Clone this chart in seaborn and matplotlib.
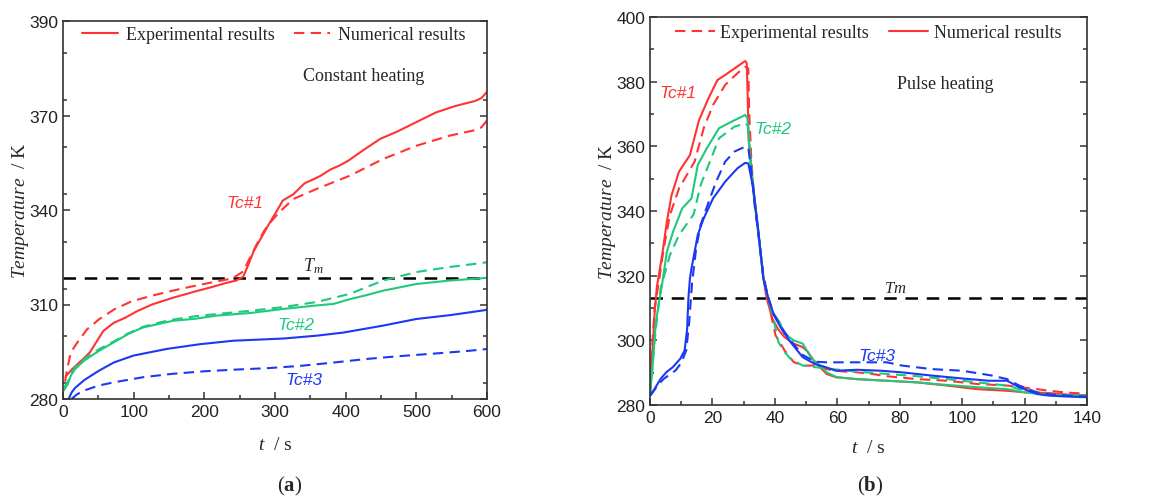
import matplotlib
matplotlib.use("Agg")
import matplotlib.pyplot as plt
import seaborn as sns
from matplotlib.ticker import MultipleLocator, FixedLocator, FixedFormatter

# ---------------- (a) constant heating ----------------
a_tc1_exp_t = [4, 13, 26, 38, 47, 57, 72, 88, 105, 126, 155, 188, 210, 230, 245, 255, 262, 270, 280,
               290, 302, 311, 326, 342, 355, 364, 378, 392, 404, 425, 449, 472, 500, 528, 555, 583, 592, 600]
a_tc1_exp_T = [287.2, 289.5, 292.2, 294.8, 298.0, 301.6, 304.2, 305.8, 307.9, 310.0, 312.1, 314.2, 315.5,
               316.8, 317.6, 318.8, 322.5, 327.0, 331.0, 335.0, 339.5, 343.0, 345.0, 348.5, 349.8, 350.8,
               352.8, 354.2, 355.7, 359.0, 362.6, 364.8, 367.9, 371.0, 373.0, 374.6, 375.5, 377.5]
a_tc1_num_t = [3, 5, 11, 22, 34, 51, 72, 97, 126, 155, 188, 215, 240, 255, 265, 275, 285, 295, 307, 326,
               359, 406, 453, 500, 547, 580, 592, 600]
a_tc1_num_T = [285.5, 288.5, 294.8, 298.5, 302.1, 305.3, 308.4, 311.0, 312.8, 314.4, 316.0, 317.2, 318.3,
               320.5, 325.0, 329.5, 333.5, 336.5, 339.5, 343.5, 346.7, 350.9, 356.2, 360.4, 363.6, 365.2,
               366.2, 368.4]
a_tc2_exp_t = [1, 7, 11, 17, 30, 51, 72, 92, 113, 135, 155, 188, 218, 265, 312, 359, 383, 406, 430, 453,
               500, 547, 597, 600]
a_tc2_exp_T = [282.7, 284.8, 287.4, 289.5, 292.2, 295.3, 298.0, 300.6, 302.7, 303.8, 304.8, 305.5, 306.5,
               307.3, 308.6, 309.7, 310.2, 311.7, 313.0, 314.4, 316.5, 317.6, 318.4, 318.6]
a_tc2_num_t = [1, 7, 11, 17, 30, 51, 72, 92, 113, 135, 155, 188, 218, 265, 312, 359, 406, 453, 500, 547,
               597, 600]
a_tc2_num_T = [283.5, 285.5, 287.8, 290.0, 292.8, 295.8, 298.3, 300.8, 302.9, 304.2, 305.2, 306.3, 307.0,
               308.0, 309.2, 310.8, 313.4, 317.6, 320.3, 321.9, 323.3, 323.5]
a_tc3_exp_t = [8, 12, 17, 30, 51, 72, 100, 147, 194, 241, 312, 359, 397, 453, 500, 547, 597, 600]
a_tc3_exp_T = [280.0, 282.0, 283.5, 286.0, 289.0, 291.6, 293.8, 295.9, 297.4, 298.5, 299.2, 300.1, 301.1,
               303.3, 305.4, 306.6, 308.2, 308.4]
a_tc3_num_t = [12, 20, 30, 51, 72, 113, 155, 200, 241, 290, 335, 380, 429, 476, 524, 570, 597, 600]
a_tc3_num_T = [280.0, 281.5, 282.7, 284.3, 285.3, 286.9, 288.0, 288.8, 289.3, 289.8, 290.5, 291.5, 292.7,
               293.6, 294.4, 295.2, 295.8, 295.9]
a_melt = 318.3
a_yticks = [280, 310, 340, 370, 400]
a_ytick_labels = ["280", "310", "340", "370", "390"]

# ---------------- (b) pulse heating ----------------
b_tc1_num_t = [0, 0.5, 1.0, 1.5, 2.2, 3.9, 5.4, 6.9, 9.3, 12.8, 15.7, 18.7, 21.6, 24.1, 27.1, 30.5, 31.0,
               31.3, 31.6, 33.0, 34.7, 36.3, 37.3, 39.2, 41.0, 43.1, 46.0, 48.9, 50.5, 52.8, 56.6, 59.5, 66.3,
               75.9, 85.5, 95.2, 104.8, 114.4, 120.2, 127.9, 134, 140]
b_tc1_num_T = [283.1, 293.3, 300.0, 308.8, 316.5, 326.4, 336.7, 344.9, 352.2, 357.3, 368.1, 374.8, 380.5,
               382.1, 384.1, 386.4, 385.7, 375.0, 362.0, 348.0, 333.4, 319.5, 313.3, 306.7, 303.5, 301.0,
               299.0, 297.9, 296.5, 293.3, 289.6, 288.6, 288.0, 287.5, 287.0, 286.0, 284.9, 284.4, 283.9,
               283.7, 283.2, 283.0]
b_tc1_exp_t = [0, 0.8, 1.5, 3.0, 4.4, 6.4, 9.3, 14.3, 17.2, 20.2, 24.1, 28.0, 30.5, 31.5, 31.8, 32.5, 33.5,
               34.7, 36.3, 37.8, 40.2, 43.1, 46.0, 48.9, 52.8, 58.6, 66.3, 71.1, 75.9, 85.5, 95.2, 104.8,
               114.4, 124, 127.9, 134, 140]
b_tc1_exp_T = [283.1, 300.0, 310.0, 319.2, 328.5, 338.8, 347.0, 355.3, 365.6, 372.8, 379.0, 382.6, 384.6,
               384.1, 370.0, 355.0, 343.0, 333.0, 320.0, 312.5, 301.6, 296.9, 293.3, 292.2, 292.2, 290.6,
               290.1, 289.6, 288.9, 288.0, 287.5, 286.5, 286.0, 284.9, 284.4, 283.8, 283.5]
b_tc2_num_t = [0, 0.7, 1.3, 1.9, 2.9, 3.9, 5.4, 7.4, 10.3, 13.3, 15.3, 18.2, 22.1, 26.1, 30.5, 31.2, 32,
               33, 34.7, 36.3, 37.8, 39.2, 41.6, 43.1, 46.0, 48.9, 51.8, 54.5, 56.6, 59.8, 66.3, 75.9, 85.5,
               95.2, 104.8, 114.4, 120.2, 127.9, 134, 140]
b_tc2_num_T = [283.4, 290.2, 298.4, 305.7, 311.9, 317.5, 327.4, 333.6, 340.8, 343.9, 354.2, 359.4, 365.6,
               367.6, 369.7, 368.7, 358.0, 348.0, 333.4, 319.5, 313.3, 308.8, 305.5, 302.1, 300.0, 299.0,
               294.3, 292.2, 290.1, 288.6, 288.0, 287.5, 287.0, 286.2, 285.5, 284.9, 283.9, 283.1, 283.0,
               282.9]
b_tc2_exp_t = [0, 0.7, 1.5, 2.4, 3.4, 6.4, 9.3, 12.3, 14.0, 16.2, 19.2, 22.1, 27.1, 30.5, 31.3, 32.2, 33.2,
               34.7, 36.3, 37.8, 39.5, 41.1, 43.0, 45.0, 48.9, 52.8, 58.6, 66.3, 75.9, 85.5, 95.2, 104.8,
               114.4, 120.2, 127.9, 134, 140]
b_tc2_exp_T = [283.4, 291.0, 300.0, 308.0, 316.1, 326.4, 332.6, 336.7, 339.0, 348.0, 355.3, 362.5, 366.1,
               367.1, 366.5, 355.0, 345.0, 333.0, 319.5, 313.0, 307.0, 299.5, 296.5, 294.3, 292.2, 291.7,
               291.1, 290.3, 289.6, 288.9, 288.0, 287.0, 286.0, 284.4, 283.4, 283.0, 282.8]
b_tc3_num_t = [0, 1.5, 3.4, 5.3, 7.3, 9.7, 11.1, 11.9, 12.3, 12.8, 13.3, 15.3, 17.2, 20.2, 24.1, 28.0, 30.5,
               31.5, 33.0, 34.7, 36.3, 37.8, 39.7, 42.1, 45.0, 48.9, 52.8, 56.6, 59.5, 66.3, 74, 80.7, 90.3,
               100, 108.6, 114.4, 118.3, 124, 127.9, 134, 140]
b_tc3_num_T = [282.9, 285.0, 288.1, 290.2, 291.7, 294.3, 296.9, 303.6, 313.0, 319.2, 322.3, 332.6, 337.7,
               343.9, 349.1, 353.2, 354.9, 354.7, 347.5, 334.0, 319.2, 313.3, 307.8, 303.6, 299.5, 294.8,
               292.7, 291.6, 290.6, 290.9, 290.6, 290.1, 289.1, 288.2, 287.5, 287.5, 285.5, 283.4, 282.9,
               282.6, 282.4]
b_tc3_exp_t = [0, 0.5, 2.4, 4.4, 8.2, 10.0, 11.6, 12.5, 13.5, 14.8, 16.2, 19.2, 21.2, 24.1, 27.1, 30.5,
               31.5, 32.5, 33.5, 34.7, 36.3, 37.8, 39.7, 42.1, 45, 48.9, 52.8, 56.6, 64.3, 75.9, 80.7, 90.3,
               100, 109.6, 114.4, 118.3, 124, 127.9, 134, 140]
b_tc3_exp_T = [282.9, 283.4, 286.0, 288.1, 290.7, 293.0, 296.9, 305.0, 318.0, 328.5, 335.7, 343.9, 349.1,
               355.3, 358.4, 359.9, 359.5, 352.0, 342.0, 333.0, 320.0, 313.5, 308.0, 304.0, 300.0, 295.5,
               293.4, 293.2, 293.2, 293.2, 292.2, 291.1, 290.6, 289.1, 288.0, 286.0, 283.9, 283.3, 282.9,
               282.6]
b_melt = 313.1

RED = "#ff3333"
GREEN = "#1fc97c"
BLUE = "#1c38f2"
DASH = (0, (5, 3))
LW = 1.5

sns.set_style("ticks")
plt.rcParams["font.family"] = ["Liberation Sans", "DejaVu Sans"]
plt.rcParams.update({
    "mathtext.fontset": "custom",
    "mathtext.rm": "Liberation Serif",
    "mathtext.it": "Liberation Serif:italic",
    "mathtext.bf": "Liberation Serif:bold",
    "axes.edgecolor": "#333333",
    "axes.linewidth": 1.2,
    "xtick.color": "#333333",
    "ytick.color": "#333333",
    "xtick.labelcolor": "#222222",
    "ytick.labelcolor": "#222222",
})

SERIF = ["Liberation Serif", "DejaVu Serif"]

fig = plt.figure(figsize=(11.59, 5.02), dpi=100)
ax_a = fig.add_axes([63 / 1159, 1 - 400 / 502, 424 / 1159, 378 / 502])
ax_b = fig.add_axes([650 / 1159, 1 - 406 / 502, 437 / 1159, 388 / 502])


def draw(ax, t, T, color, dashed, label=None):
    kw = dict(linestyle=DASH) if dashed else {}
    sns.lineplot(x=t, y=T, ax=ax, color=color, lw=LW, estimator=None, sort=False,
                 label=label, legend=False, **kw)


# panel (a): solid = experiment, dashed = simulation
draw(ax_a, a_tc1_exp_t, a_tc1_exp_T, RED, False, "Experimental results")
draw(ax_a, a_tc1_num_t, a_tc1_num_T, RED, True, "Numerical results")
draw(ax_a, a_tc2_exp_t, a_tc2_exp_T, GREEN, False)
draw(ax_a, a_tc2_num_t, a_tc2_num_T, GREEN, True)
draw(ax_a, a_tc3_exp_t, a_tc3_exp_T, BLUE, False)
draw(ax_a, a_tc3_num_t, a_tc3_num_T, BLUE, True)
ax_a.axhline(a_melt, color="black", lw=1.8, linestyle=(0, (5, 3.5)), zorder=1)

# panel (b): dashed = experiment, solid = simulation
draw(ax_b, b_tc1_exp_t, b_tc1_exp_T, RED, True, "Experimental results")
draw(ax_b, b_tc1_num_t, b_tc1_num_T, RED, False, "Numerical results")
draw(ax_b, b_tc2_exp_t, b_tc2_exp_T, GREEN, True)
draw(ax_b, b_tc2_num_t, b_tc2_num_T, GREEN, False)
draw(ax_b, b_tc3_exp_t, b_tc3_exp_T, BLUE, True)
draw(ax_b, b_tc3_num_t, b_tc3_num_T, BLUE, False)
ax_b.axhline(b_melt, color="black", lw=1.8, linestyle=(0, (5, 3.5)), zorder=1)

# axes ranges and ticks
ax_a.set_xlim(0, 600)
ax_a.set_ylim(280, 400)
ax_a.xaxis.set_major_locator(MultipleLocator(100))
ax_a.xaxis.set_minor_locator(MultipleLocator(50))
ax_a.yaxis.set_major_locator(FixedLocator(a_yticks))
ax_a.yaxis.set_major_formatter(FixedFormatter(a_ytick_labels))
ax_a.yaxis.set_minor_locator(MultipleLocator(15))

ax_b.set_xlim(0, 140)
ax_b.set_ylim(280, 400)
ax_b.xaxis.set_major_locator(MultipleLocator(20))
ax_b.xaxis.set_minor_locator(MultipleLocator(10))
ax_b.yaxis.set_major_locator(MultipleLocator(20))
ax_b.yaxis.set_minor_locator(MultipleLocator(10))

for ax, xpad in ((ax_a, 12), (ax_b, 10)):
    for s in ax.spines.values():
        s.set_visible(True)
    ax.tick_params(which="both", direction="in", left=True, right=True, top=False, bottom=True,
                   labelsize=12.5, width=1.1)
    ax.tick_params(which="major", length=5)
    ax.tick_params(which="minor", length=3)
    ax.set_xlabel(r"$\it{t}$  / s", fontsize=14, family=SERIF, labelpad=xpad)
    ax.set_ylabel(r"$\it{Temperature}$  / K", fontsize=14, family=SERIF, labelpad=-1)

# legends
ax_a.legend(loc="center", bbox_to_anchor=(0.497, 0.963), ncol=2, frameon=False,
            prop={"family": SERIF, "size": 13}, handlelength=2.0, handletextpad=0.4,
            columnspacing=1.1, borderaxespad=0)
ax_b.legend(loc="center", bbox_to_anchor=(0.499, 0.959), ncol=2, frameon=False,
            prop={"family": SERIF, "size": 13}, handlelength=2.2, handletextpad=0.3,
            columnspacing=1.1, borderaxespad=0)

# annotations
ax_a.text(426, 382.6, "Constant heating", ha="center", va="center", fontsize=13, family=SERIF)
ax_a.text(258, 342.5, "Tc#1", ha="center", va="center", fontsize=12.5, style="italic", color=RED)
ax_a.text(330, 303.8, "Tc#2", ha="center", va="center", fontsize=12.5, style="italic", color=GREEN)
ax_a.text(341, 286.3, "Tc#3", ha="center", va="center", fontsize=12.5, style="italic", color=BLUE)
ax_a.text(354, 322.6, r"$T_m$", ha="center", va="center", fontsize=13)

ax_b.text(94.5, 379.3, "Pulse heating", ha="center", va="center", fontsize=13, family=SERIF)
ax_b.text(9.1, 376.7, "Tc#1", ha="center", va="center", fontsize=12.5, style="italic", color=RED)
ax_b.text(39.5, 365.4, "Tc#2", ha="center", va="center", fontsize=12.5, style="italic", color=GREEN)
ax_b.text(72.6, 295.2, "Tc#3", ha="center", va="center", fontsize=12.5, style="italic", color=BLUE)
ax_b.text(78.5, 316.4, r"$Tm$", ha="center", va="center", fontsize=12)

fig.text(290 / 1159, 1 - 486 / 502, r"($\mathbf{a}$)", ha="center", va="center", fontsize=15,
         family=SERIF)
fig.text(870 / 1159, 1 - 486 / 502, r"($\mathbf{b}$)", ha="center", va="center", fontsize=15,
         family=SERIF)

fig.savefig("out.png", dpi=100, facecolor="white")
